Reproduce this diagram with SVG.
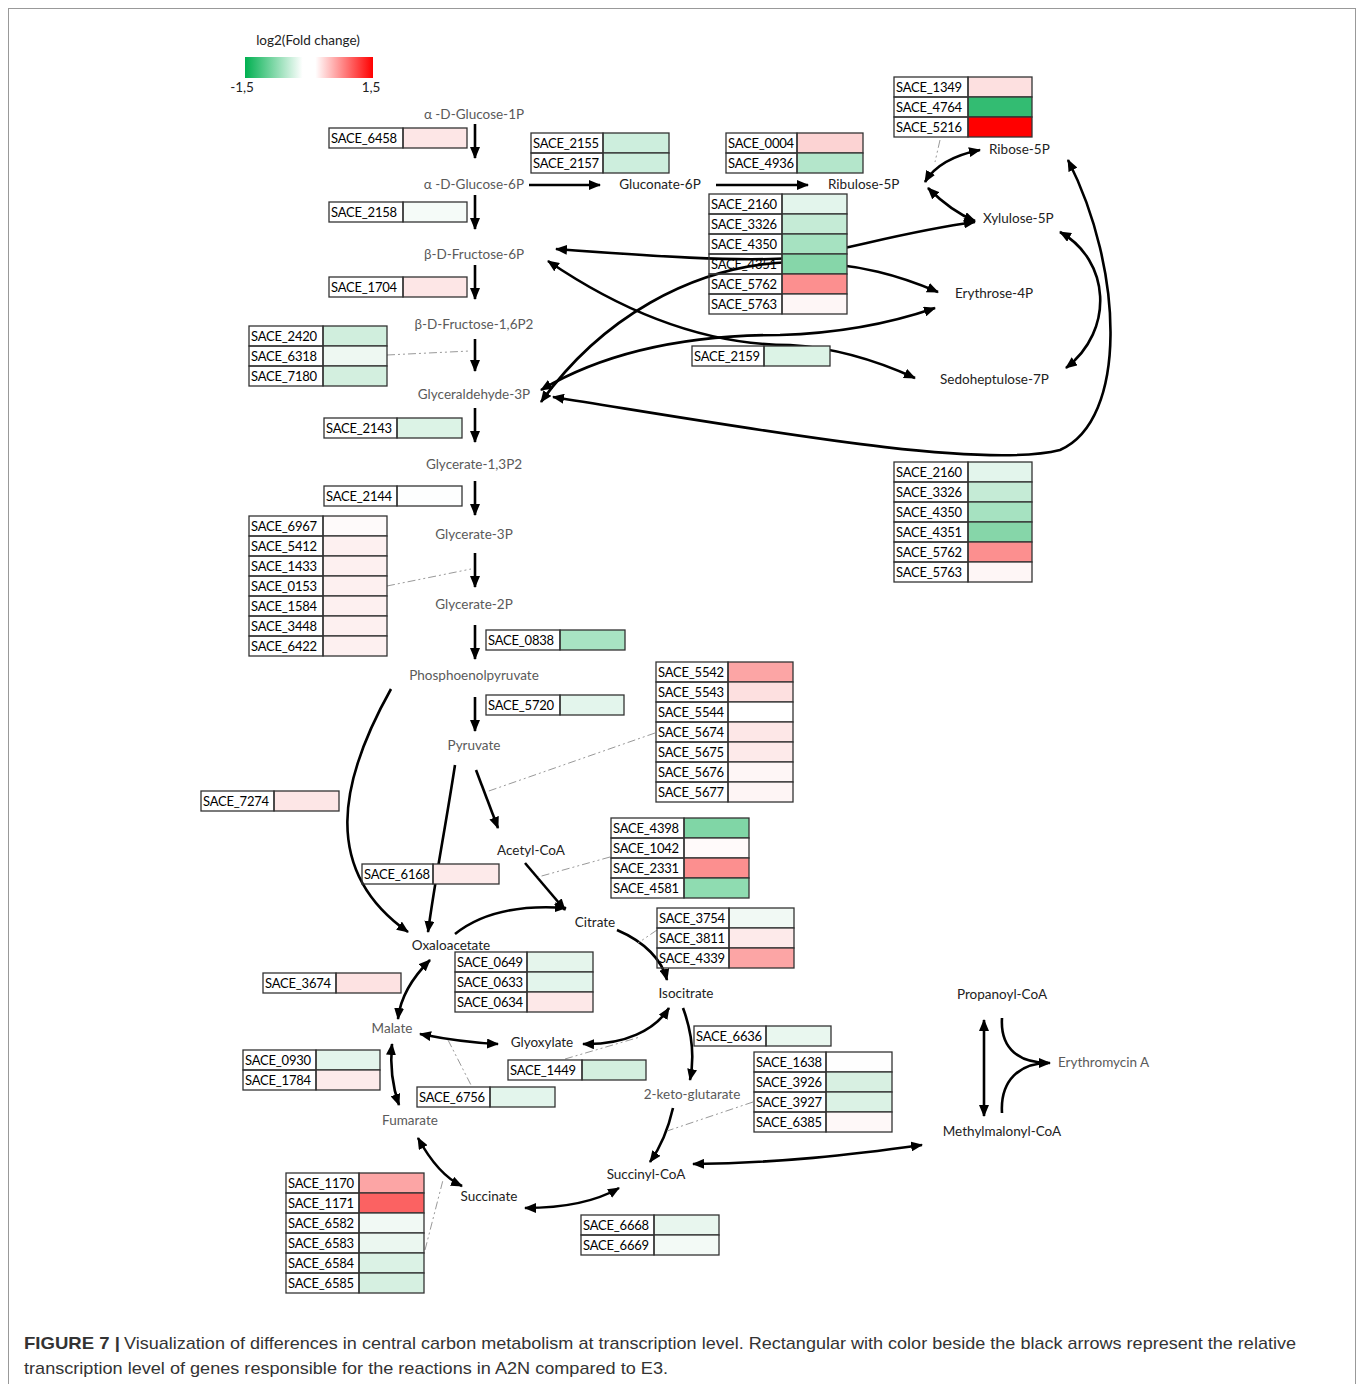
<svg xmlns="http://www.w3.org/2000/svg" width="1358" height="1384" viewBox="0 0 1358 1384">
<defs>
<linearGradient id="lg" x1="0" y1="0" x2="1" y2="0">
<stop offset="0" stop-color="#00b050"/><stop offset="0.45" stop-color="#ffffff"/><stop offset="0.55" stop-color="#ffffff"/><stop offset="1" stop-color="#ff0000"/>
</linearGradient>
<marker id="ah" viewBox="0 0 12 10" refX="11" refY="5" markerWidth="12" markerHeight="10" markerUnits="userSpaceOnUse" orient="auto-start-reverse"><path d="M0,0 L12,5 L0,10 z" fill="#000"/></marker>
<style>
text{font-family:Lato,"Liberation Sans",sans-serif;font-size:13.5px}
.g{fill:#000;font-size:13px;letter-spacing:-0.2px}
.m{fill:#222}
.mg{fill:#5a5a5a}
.n{fill:none;stroke:#333;stroke-width:1.3}
.c{stroke:#333;stroke-width:1.3}
.a{fill:none;stroke:#000;stroke-width:2.6;marker-end:url(#ah)}
.b{fill:none;stroke:#000;stroke-width:2.6;marker-start:url(#ah);marker-end:url(#ah)}
.p{fill:none;stroke:#000;stroke-width:2.6}
.d{fill:none;stroke:#999;stroke-width:1;stroke-dasharray:8 3 2 3 2 3}
.cap{font-family:"Liberation Sans",Arial,sans-serif;font-size:17px;fill:#333}
</style>
</defs>
<rect x="0" y="0" width="1358" height="1384" fill="#fff"/>
<rect x="8.5" y="8.5" width="1347" height="1400" fill="none" stroke="#999" stroke-width="1"/>

<g id="legend">
<text x="308" y="45" text-anchor="middle" class="m">log2(Fold change)</text>
<rect x="245" y="57" width="128" height="21" fill="url(#lg)"/>
<text x="242" y="92" text-anchor="middle" class="m">-1,5</text>
<text x="371" y="92" text-anchor="middle" class="m">1,5</text>
</g>

<g id="connectors">
<path class="a" d="M475,124 L475,158"/>
<path class="a" d="M475,195 L475,229"/>
<path class="a" d="M475,265 L475,299"/>
<path class="a" d="M475,339 L475,371"/>
<path class="a" d="M475,408 L475,442"/>
<path class="a" d="M475,481 L475,515"/>
<path class="a" d="M475,553 L475,587"/>
<path class="a" d="M475,625 L475,659"/>
<path class="a" d="M475,697 L475,731"/>
<path class="a" d="M529,185 L600,185"/>
<path class="a" d="M716,185 L808,185"/>
<path class="b" d="M925,182 C935,165 955,155 980,150"/>
<path class="b" d="M928,188 C945,205 960,215 975,221"/>
<path class="b" d="M556,249 C650,256 740,262 790,258 C840,252 900,232 975,222"/>
<path class="b" d="M541,402 C600,320 690,266 790,262 C860,262 905,278 938,292"/>
<path class="b" d="M548,261 C620,310 700,345 790,345 C840,348 880,362 915,378"/>
<path class="b" d="M541,390 C600,355 680,335 780,335 C850,333 900,320 935,308"/>
<path class="b" d="M553,397 C760,430 980,470 1060,450 C1128,420 1124,270 1068,160"/>
<path class="b" d="M1060,232 C1110,260 1115,330 1066,368"/>
<path class="a" d="M476,770 L498,828"/>
<path class="a" d="M525,863 L565,910"/>
<path class="a" d="M391,689 C340,780 320,870 408,932"/>
<path class="a" d="M455,765 C445,830 435,880 428,932"/>
<path class="a" d="M455,934 C485,910 525,905 566,908"/>
<path class="a" d="M617,930 C645,942 662,960 667,980"/>
<path class="b" d="M430,960 C410,980 400,1000 398,1019"/>
<path class="b" d="M420,1034 C450,1040 475,1043 498,1044"/>
<path class="b" d="M583,1044 C625,1045 655,1030 669,1008"/>
<path class="b" d="M392,1044 C390,1065 392,1085 399,1105"/>
<path class="a" d="M683,1008 C693,1035 694,1060 690,1080"/>
<path class="a" d="M673,1108 C668,1130 660,1148 650,1162"/>
<path class="b" d="M693,1164 C780,1163 850,1155 922,1145"/>
<path class="b" d="M418,1138 C430,1160 445,1178 462,1186"/>
<path class="b" d="M525,1208 C560,1208 595,1202 619,1188"/>
<path class="b" d="M984,1020 L984,1116"/>
<path class="a" d="M1002,1018 C1000,1050 1020,1063 1050,1063"/>
<path class="p" d="M1002,1113 C1000,1080 1020,1063 1048,1063"/>
<path class="d" d="M940,140 L935,162"/>
<path class="d" d="M387,355 L470,351"/>
<path class="d" d="M387,586 L471,569"/>
<path class="d" d="M655,733 L486,792"/>
<path class="d" d="M610,857 L538,877"/>
<path class="d" d="M657,930 L638,943"/>
<path class="d" d="M565,1059 L640,1037"/>
<path class="d" d="M448,1040 L472,1087"/>
<path class="d" d="M753,1102 L667,1131"/>
<path class="d" d="M425,1250 L443,1180"/>
</g>

<g id="metabolites">
<text id="glc1p" x="474" y="119" text-anchor="middle" class="mg">α -D-Glucose-1P</text>
<text id="glc6p" x="524" y="189" text-anchor="end" class="mg">α -D-Glucose-6P</text>
<text id="gluconate6p" x="660" y="189" text-anchor="middle" class="m">Gluconate-6P</text>
<text id="ribulose5p" x="828" y="189" class="m">Ribulose-5P</text>
<text id="ribose5p" x="989" y="154" class="m">Ribose-5P</text>
<text id="xylulose5p" x="983" y="223" class="m">Xylulose-5P</text>
<text id="f6p" x="474" y="259" text-anchor="middle" class="mg">β-D-Fructose-6P</text>
<text id="e4p" x="955" y="298" class="m">Erythrose-4P</text>
<text id="fbp" x="474" y="329" text-anchor="middle" class="mg">β-D-Fructose-1,6P2</text>
<text id="s7p" x="940" y="384" class="m">Sedoheptulose-7P</text>
<text id="gap" x="474" y="399" text-anchor="middle" class="mg">Glyceraldehyde-3P</text>
<text id="bpg" x="474" y="469" text-anchor="middle" class="mg">Glycerate-1,3P2</text>
<text id="g3p" x="474" y="539" text-anchor="middle" class="mg">Glycerate-3P</text>
<text id="g2p" x="474" y="609" text-anchor="middle" class="mg">Glycerate-2P</text>
<text id="pep" x="474" y="680" text-anchor="middle" class="mg">Phosphoenolpyruvate</text>
<text id="pyr" x="474" y="750" text-anchor="middle" class="mg">Pyruvate</text>
<text id="accoa" x="531" y="855" text-anchor="middle" class="m">Acetyl-CoA</text>
<text id="cit" x="595" y="927" text-anchor="middle" class="m">Citrate</text>
<text id="oaa" x="451" y="950" text-anchor="middle" class="m">Oxaloacetate</text>
<text id="icit" x="686" y="998" text-anchor="middle" class="m">Isocitrate</text>
<text id="propcoa" x="1002" y="999" text-anchor="middle" class="m">Propanoyl-CoA</text>
<text id="mal" x="392" y="1033" text-anchor="middle" class="mg">Malate</text>
<text id="glx" x="542" y="1047" text-anchor="middle" class="m">Glyoxylate</text>
<text id="ery" x="1058" y="1067" class="mg">Erythromycin A</text>
<text id="akg" x="692" y="1099" text-anchor="middle" class="mg">2-keto-glutarate</text>
<text id="fum" x="410" y="1125" text-anchor="middle" class="mg">Fumarate</text>
<text id="mmcoa" x="1002" y="1136" text-anchor="middle" class="m">Methylmalonyl-CoA</text>
<text id="succoa" x="646" y="1179" text-anchor="middle" class="m">Succinyl-CoA</text>
<text id="succ" x="489" y="1201" text-anchor="middle" class="m">Succinate</text>
</g>

<g id="t6458"><rect class="c" x="403" y="128" width="64" height="20" fill="#fde6e6"/><rect class="n" x="329" y="128" width="74" height="20"/><text class="g" x="331" y="143">SACE_6458</text></g>

<g id="t2155">
<rect class="c" x="603" y="133" width="66" height="20" fill="#cdeedd"/><rect class="n" x="531" y="133" width="72" height="20"/><text class="g" x="533" y="148">SACE_2155</text>
<rect class="c" x="603" y="153" width="66" height="20" fill="#cdeedd"/><rect class="n" x="531" y="153" width="72" height="20"/><text class="g" x="533" y="168">SACE_2157</text>
</g>

<g id="t0004">
<rect class="c" x="797" y="133" width="66" height="20" fill="#fcd3d3"/><rect class="n" x="726" y="133" width="71" height="20"/><text class="g" x="728" y="148">SACE_0004</text>
<rect class="c" x="797" y="153" width="66" height="20" fill="#b4e6cb"/><rect class="n" x="726" y="153" width="71" height="20"/><text class="g" x="728" y="168">SACE_4936</text>
</g>

<g id="t1349">
<rect class="c" x="968" y="77" width="64" height="20" fill="#fde0e0"/><rect class="n" x="894" y="77" width="74" height="20"/><text class="g" x="896" y="92">SACE_1349</text>
<rect class="c" x="968" y="97" width="64" height="20" fill="#33bc72"/><rect class="n" x="894" y="97" width="74" height="20"/><text class="g" x="896" y="112">SACE_4764</text>
<rect class="c" x="968" y="117" width="64" height="20" fill="#ff0000"/><rect class="n" x="894" y="117" width="74" height="20"/><text class="g" x="896" y="132">SACE_5216</text>
</g>

<g id="t2158"><rect class="c" x="403" y="202" width="64" height="20" fill="#f5fbf8"/><rect class="n" x="329" y="202" width="74" height="20"/><text class="g" x="331" y="217">SACE_2158</text></g>

<g id="t2160a">
<rect class="c" x="782" y="194" width="65" height="20" fill="#e3f5ec"/><rect class="n" x="709" y="194" width="73" height="20"/><text class="g" x="711" y="209">SACE_2160</text>
<rect class="c" x="782" y="214" width="65" height="20" fill="#c5ebd6"/><rect class="n" x="709" y="214" width="73" height="20"/><text class="g" x="711" y="229">SACE_3326</text>
<rect class="c" x="782" y="234" width="65" height="20" fill="#a6e2c1"/><rect class="n" x="709" y="234" width="73" height="20"/><text class="g" x="711" y="249">SACE_4350</text>
<rect class="c" x="782" y="254" width="65" height="20" fill="#86d6a9"/><rect class="n" x="709" y="254" width="73" height="20"/><text class="g" x="711" y="269">SACE_4351</text>
<rect class="c" x="782" y="274" width="65" height="20" fill="#fc8f8f"/><rect class="n" x="709" y="274" width="73" height="20"/><text class="g" x="711" y="289">SACE_5762</text>
<rect class="c" x="782" y="294" width="65" height="20" fill="#fef6f6"/><rect class="n" x="709" y="294" width="73" height="20"/><text class="g" x="711" y="309">SACE_5763</text>
</g>

<g id="t1704"><rect class="c" x="403" y="277" width="64" height="20" fill="#fde6e6"/><rect class="n" x="329" y="277" width="74" height="20"/><text class="g" x="331" y="292">SACE_1704</text></g>

<g id="t2420">
<rect class="c" x="323" y="326" width="64" height="20" fill="#d0eedd"/><rect class="n" x="249" y="326" width="74" height="20"/><text class="g" x="251" y="341">SACE_2420</text>
<rect class="c" x="323" y="346" width="64" height="20" fill="#eef8f2"/><rect class="n" x="249" y="346" width="74" height="20"/><text class="g" x="251" y="361">SACE_6318</text>
<rect class="c" x="323" y="366" width="64" height="20" fill="#d3efdf"/><rect class="n" x="249" y="366" width="74" height="20"/><text class="g" x="251" y="381">SACE_7180</text>
</g>

<g id="t2159"><rect class="c" x="764" y="346" width="66" height="20" fill="#dcf3e6"/><rect class="n" x="692" y="346" width="72" height="20"/><text class="g" x="694" y="361">SACE_2159</text></g>

<g id="t2143"><rect class="c" x="397" y="418" width="65" height="20" fill="#dcf3e6"/><rect class="n" x="324" y="418" width="73" height="20"/><text class="g" x="326" y="433">SACE_2143</text></g>

<g id="t2160b">
<rect class="c" x="968" y="462" width="64" height="20" fill="#e3f5ec"/><rect class="n" x="894" y="462" width="74" height="20"/><text class="g" x="896" y="477">SACE_2160</text>
<rect class="c" x="968" y="482" width="64" height="20" fill="#c5ebd6"/><rect class="n" x="894" y="482" width="74" height="20"/><text class="g" x="896" y="497">SACE_3326</text>
<rect class="c" x="968" y="502" width="64" height="20" fill="#a6e2c1"/><rect class="n" x="894" y="502" width="74" height="20"/><text class="g" x="896" y="517">SACE_4350</text>
<rect class="c" x="968" y="522" width="64" height="20" fill="#86d6a9"/><rect class="n" x="894" y="522" width="74" height="20"/><text class="g" x="896" y="537">SACE_4351</text>
<rect class="c" x="968" y="542" width="64" height="20" fill="#fc8f8f"/><rect class="n" x="894" y="542" width="74" height="20"/><text class="g" x="896" y="557">SACE_5762</text>
<rect class="c" x="968" y="562" width="64" height="20" fill="#fef6f6"/><rect class="n" x="894" y="562" width="74" height="20"/><text class="g" x="896" y="577">SACE_5763</text>
</g>

<g id="t2144"><rect class="c" x="397" y="486" width="65" height="20" fill="#fdfefe"/><rect class="n" x="324" y="486" width="73" height="20"/><text class="g" x="326" y="501">SACE_2144</text></g>

<g id="t6967">
<rect class="c" x="323" y="516" width="64" height="20" fill="#fefafa"/><rect class="n" x="249" y="516" width="74" height="20"/><text class="g" x="251" y="531">SACE_6967</text>
<rect class="c" x="323" y="536" width="64" height="20" fill="#fdf0f0"/><rect class="n" x="249" y="536" width="74" height="20"/><text class="g" x="251" y="551">SACE_5412</text>
<rect class="c" x="323" y="556" width="64" height="20" fill="#fdf0f0"/><rect class="n" x="249" y="556" width="74" height="20"/><text class="g" x="251" y="571">SACE_1433</text>
<rect class="c" x="323" y="576" width="64" height="20" fill="#fdf0f0"/><rect class="n" x="249" y="576" width="74" height="20"/><text class="g" x="251" y="591">SACE_0153</text>
<rect class="c" x="323" y="596" width="64" height="20" fill="#fdf0f0"/><rect class="n" x="249" y="596" width="74" height="20"/><text class="g" x="251" y="611">SACE_1584</text>
<rect class="c" x="323" y="616" width="64" height="20" fill="#fdf0f0"/><rect class="n" x="249" y="616" width="74" height="20"/><text class="g" x="251" y="631">SACE_3448</text>
<rect class="c" x="323" y="636" width="64" height="20" fill="#fdf0f0"/><rect class="n" x="249" y="636" width="74" height="20"/><text class="g" x="251" y="651">SACE_6422</text>
</g>

<g id="t0838"><rect class="c" x="560" y="630" width="65" height="20" fill="#a8e4c3"/><rect class="n" x="486" y="630" width="74" height="20"/><text class="g" x="488" y="645">SACE_0838</text></g>

<g id="t5542">
<rect class="c" x="728" y="662" width="65" height="20" fill="#fca5a5"/><rect class="n" x="656" y="662" width="72" height="20"/><text class="g" x="658" y="677">SACE_5542</text>
<rect class="c" x="728" y="682" width="65" height="20" fill="#fde0e0"/><rect class="n" x="656" y="682" width="72" height="20"/><text class="g" x="658" y="697">SACE_5543</text>
<rect class="c" x="728" y="702" width="65" height="20" fill="#ffffff"/><rect class="n" x="656" y="702" width="72" height="20"/><text class="g" x="658" y="717">SACE_5544</text>
<rect class="c" x="728" y="722" width="65" height="20" fill="#fde7e7"/><rect class="n" x="656" y="722" width="72" height="20"/><text class="g" x="658" y="737">SACE_5674</text>
<rect class="c" x="728" y="742" width="65" height="20" fill="#fdeaea"/><rect class="n" x="656" y="742" width="72" height="20"/><text class="g" x="658" y="757">SACE_5675</text>
<rect class="c" x="728" y="762" width="65" height="20" fill="#fef6f6"/><rect class="n" x="656" y="762" width="72" height="20"/><text class="g" x="658" y="777">SACE_5676</text>
<rect class="c" x="728" y="782" width="65" height="20" fill="#fef5f5"/><rect class="n" x="656" y="782" width="72" height="20"/><text class="g" x="658" y="797">SACE_5677</text>
</g>

<g id="t5720"><rect class="c" x="560" y="695" width="64" height="20" fill="#e3f5ec"/><rect class="n" x="486" y="695" width="74" height="20"/><text class="g" x="488" y="710">SACE_5720</text></g>

<g id="t7274"><rect class="c" x="274" y="791" width="65" height="20" fill="#fde6e6"/><rect class="n" x="201" y="791" width="73" height="20"/><text class="g" x="203" y="806">SACE_7274</text></g>

<g id="t4398">
<rect class="c" x="684" y="818" width="65" height="20" fill="#80d6a6"/><rect class="n" x="611" y="818" width="73" height="20"/><text class="g" x="613" y="833">SACE_4398</text>
<rect class="c" x="684" y="838" width="65" height="20" fill="#fffafa"/><rect class="n" x="611" y="838" width="73" height="20"/><text class="g" x="613" y="853">SACE_1042</text>
<rect class="c" x="684" y="858" width="65" height="20" fill="#fc8f8f"/><rect class="n" x="611" y="858" width="73" height="20"/><text class="g" x="613" y="873">SACE_2331</text>
<rect class="c" x="684" y="878" width="65" height="20" fill="#8fdcb1"/><rect class="n" x="611" y="878" width="73" height="20"/><text class="g" x="613" y="893">SACE_4581</text>
</g>

<g id="t6168"><rect class="c" x="433" y="864" width="66" height="20" fill="#fdeaea"/><rect class="n" x="362" y="864" width="71" height="20"/><text class="g" x="364" y="879">SACE_6168</text></g>

<g id="t3754">
<rect class="c" x="729" y="908" width="65" height="20" fill="#f1f9f4"/><rect class="n" x="657" y="908" width="72" height="20"/><text class="g" x="659" y="923">SACE_3754</text>
<rect class="c" x="729" y="928" width="65" height="20" fill="#fdeaea"/><rect class="n" x="657" y="928" width="72" height="20"/><text class="g" x="659" y="943">SACE_3811</text>
<rect class="c" x="729" y="948" width="65" height="20" fill="#fca5a5"/><rect class="n" x="657" y="948" width="72" height="20"/><text class="g" x="659" y="963">SACE_4339</text>
</g>

<g id="t0649">
<rect class="c" x="527" y="952" width="66" height="20" fill="#e5f5ec"/><rect class="n" x="455" y="952" width="72" height="20"/><text class="g" x="457" y="967">SACE_0649</text>
<rect class="c" x="527" y="972" width="66" height="20" fill="#e3f5ec"/><rect class="n" x="455" y="972" width="72" height="20"/><text class="g" x="457" y="987">SACE_0633</text>
<rect class="c" x="527" y="992" width="66" height="20" fill="#fde8e8"/><rect class="n" x="455" y="992" width="72" height="20"/><text class="g" x="457" y="1007">SACE_0634</text>
</g>

<g id="t3674"><rect class="c" x="336" y="973" width="65" height="20" fill="#fde2e2"/><rect class="n" x="263" y="973" width="73" height="20"/><text class="g" x="265" y="988">SACE_3674</text></g>

<g id="t6636"><rect class="c" x="766" y="1026" width="65" height="20" fill="#e9f7ef"/><rect class="n" x="694" y="1026" width="72" height="20"/><text class="g" x="696" y="1041">SACE_6636</text></g>

<g id="t0930">
<rect class="c" x="316" y="1050" width="64" height="20" fill="#e3f5ec"/><rect class="n" x="243" y="1050" width="73" height="20"/><text class="g" x="245" y="1065">SACE_0930</text>
<rect class="c" x="316" y="1070" width="64" height="20" fill="#fdeaea"/><rect class="n" x="243" y="1070" width="73" height="20"/><text class="g" x="245" y="1085">SACE_1784</text>
</g>

<g id="t1638">
<rect class="c" x="826" y="1052" width="66" height="20" fill="#fefefe"/><rect class="n" x="754" y="1052" width="72" height="20"/><text class="g" x="756" y="1067">SACE_1638</text>
<rect class="c" x="826" y="1072" width="66" height="20" fill="#d8f0e2"/><rect class="n" x="754" y="1072" width="72" height="20"/><text class="g" x="756" y="1087">SACE_3926</text>
<rect class="c" x="826" y="1092" width="66" height="20" fill="#dbf2e5"/><rect class="n" x="754" y="1092" width="72" height="20"/><text class="g" x="756" y="1107">SACE_3927</text>
<rect class="c" x="826" y="1112" width="66" height="20" fill="#fef8f8"/><rect class="n" x="754" y="1112" width="72" height="20"/><text class="g" x="756" y="1127">SACE_6385</text>
</g>

<g id="t1449"><rect class="c" x="582" y="1060" width="64" height="20" fill="#d3efdf"/><rect class="n" x="508" y="1060" width="74" height="20"/><text class="g" x="510" y="1075">SACE_1449</text></g>

<g id="t6756"><rect class="c" x="490" y="1087" width="65" height="20" fill="#e3f5ec"/><rect class="n" x="417" y="1087" width="73" height="20"/><text class="g" x="419" y="1102">SACE_6756</text></g>

<g id="t1170">
<rect class="c" x="359" y="1173" width="65" height="20" fill="#fca5a5"/><rect class="n" x="286" y="1173" width="73" height="20"/><text class="g" x="288" y="1188">SACE_1170</text>
<rect class="c" x="359" y="1193" width="65" height="20" fill="#fb6262"/><rect class="n" x="286" y="1193" width="73" height="20"/><text class="g" x="288" y="1208">SACE_1171</text>
<rect class="c" x="359" y="1213" width="65" height="20" fill="#f1f9f4"/><rect class="n" x="286" y="1213" width="73" height="20"/><text class="g" x="288" y="1228">SACE_6582</text>
<rect class="c" x="359" y="1233" width="65" height="20" fill="#ebf7f0"/><rect class="n" x="286" y="1233" width="73" height="20"/><text class="g" x="288" y="1248">SACE_6583</text>
<rect class="c" x="359" y="1253" width="65" height="20" fill="#dbf2e5"/><rect class="n" x="286" y="1253" width="73" height="20"/><text class="g" x="288" y="1268">SACE_6584</text>
<rect class="c" x="359" y="1273" width="65" height="20" fill="#d6f0e1"/><rect class="n" x="286" y="1273" width="73" height="20"/><text class="g" x="288" y="1288">SACE_6585</text>
</g>

<g id="t6668">
<rect class="c" x="654" y="1215" width="65" height="20" fill="#e8f6ee"/><rect class="n" x="581" y="1215" width="73" height="20"/><text class="g" x="583" y="1230">SACE_6668</text>
<rect class="c" x="654" y="1235" width="65" height="20" fill="#f3faf6"/><rect class="n" x="581" y="1235" width="73" height="20"/><text class="g" x="583" y="1250">SACE_6669</text>
</g>

<g id="caption">
<text class="cap" x="24" y="1349" font-weight="bold" fill="#222" textLength="96" lengthAdjust="spacingAndGlyphs">FIGURE 7 |</text>
<text class="cap" x="124" y="1349" textLength="1172" lengthAdjust="spacingAndGlyphs">Visualization of differences in central carbon metabolism at transcription level. Rectangular with color beside the black arrows represent the relative</text>
<text class="cap" x="24" y="1374" textLength="644" lengthAdjust="spacingAndGlyphs">transcription level of genes responsible for the reactions in A2N compared to E3.</text>
</g>
</svg>
